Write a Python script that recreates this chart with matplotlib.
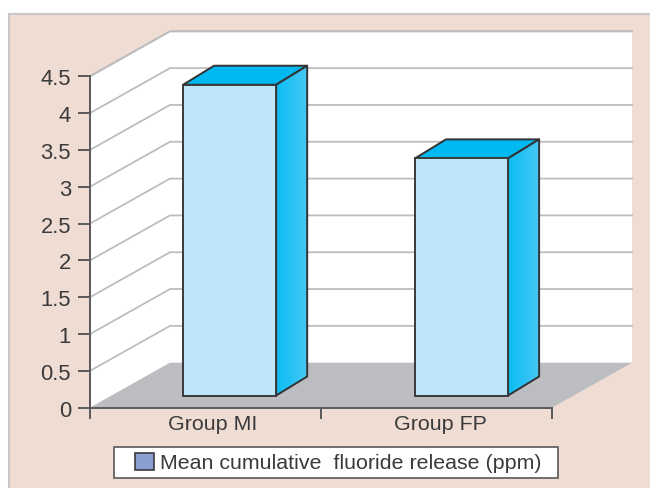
import matplotlib
matplotlib.use('Agg')
import matplotlib.pyplot as plt
import numpy as np
from matplotlib.patches import Polygon, Rectangle

plt.rcParams['font.family'] = ['Liberation Sans', 'DejaVu Sans']

groups = ['Group MI', 'Group FP']
values = [4.22, 3.22]
y_ticks = [0, 0.5, 1, 1.5, 2, 2.5, 3, 3.5, 4, 4.5]
y_labels = ['0', '0.5', '1', '1.5', '2', '2.5', '3', '3.5', '4', '4.5']
series_name = 'Mean cumulative  fluoride release (ppm)'

W, H = 650, 489
text_col = '#3a3a3c'
axis_col = '#58585a'
grid_col = '#bdbdbf'

fig = plt.figure(figsize=(W / 100, H / 100), dpi=100, facecolor='white')

# pink panel behind everything
fig.patches.append(Rectangle((9 / W, -0.05), 1, 1.05 - 14.5 / H, transform=fig.transFigure,
                             fc='#efdcd3', ec='#c8c8ca', lw=1.5, zorder=-2))

# axes box = front edge of the fake 3d chart
ax = fig.add_axes([90 / W, 1 - 408.7 / H, (552 - 90) / W, (408.7 - 77.3) / H])
ax.set_xlim(0, 2)
ax.set_ylim(0, 4.5)
ax.patch.set_alpha(0)

# depth of the walls and of the bars, in data units
px_x = 2 / (552 - 90)
px_y = 4.5 / (408.7 - 77.3)
wall_dx, wall_dy = 80 * px_x, 45 * px_y
bar_dx, bar_dy = 31 * px_x, 19 * px_y
bar_left = [0.403, 1.407]
bar_w = 0.403
bar_lift = 12.2 * px_y


def poly(pts, **kw):
    p = Polygon(pts, closed=True, clip_on=False, **kw)
    ax.add_patch(p)
    return p


# back wall, side wall, floor
poly([(wall_dx, wall_dy), (2 + wall_dx, wall_dy), (2 + wall_dx, 4.5 + wall_dy), (wall_dx, 4.5 + wall_dy)],
     fc='white', ec='none', zorder=1)
poly([(0, 0), (wall_dx, wall_dy), (wall_dx, 4.5 + wall_dy), (0, 4.5)], fc='white', ec='none', zorder=1)
poly([(0, 0), (2, 0), (2 + wall_dx, wall_dy), (wall_dx, wall_dy)], fc='#bcbdc0', ec='none', zorder=2)

for t in y_ticks[1:]:
    ax.plot([0, wall_dx, 2 + wall_dx], [t, t + wall_dy, t + wall_dy], color=grid_col, lw=1.3,
            clip_on=False, zorder=2, solid_joinstyle='miter')
# top edge of the walls
ax.plot([0, wall_dx, 2 + wall_dx], [4.5, 4.5 + wall_dy, 4.5 + wall_dy], color=grid_col, lw=1.3,
        clip_on=False, zorder=3, solid_joinstyle='miter')

# bars
cmap = matplotlib.colors.LinearSegmentedColormap.from_list('side', ['#0abdf3', '#45c7f4'])
for left, v in zip(bar_left, values):
    right = left + bar_w
    y0 = bar_lift
    y1 = bar_lift + v
    poly([(left, y1), (right, y1), (right + bar_dx, y1 + bar_dy), (left + bar_dx, y1 + bar_dy)],
         fc='#00b9f1', ec='#333335', lw=1.4, zorder=4, joinstyle='round')
    side = poly([(right, y0), (right + bar_dx, y0 + bar_dy), (right + bar_dx, y1 + bar_dy), (right, y1)],
                fc='none', ec='#333335', lw=1.4, zorder=6, joinstyle='round')
    grad = np.array([np.linspace(0, 1, 32)])
    im = ax.imshow(grad, extent=(right, right + bar_dx, y0, y1 + bar_dy), aspect='auto',
                   cmap=cmap, zorder=5, origin='lower')
    im.set_clip_box(fig.bbox)
    im.set_clip_path(Polygon(side.get_xy(), closed=True, transform=ax.transData))
    poly([(left, y0), (right, y0), (right, y1), (left, y1)], fc='#bde6f9', ec='#3a3a3c', lw=1.4, zorder=7)

ax.set_xlim(0, 2)
ax.set_ylim(0, 4.5)

for s in ['top', 'right']:
    ax.spines[s].set_visible(False)
for s in ['left', 'bottom']:
    ax.spines[s].set_color(axis_col)
    ax.spines[s].set_linewidth(1.4)
    ax.spines[s].set_zorder(8)

ax.set_yticks(y_ticks)
ax.set_yticklabels(y_labels, fontsize=15.8, color=text_col)
ax.tick_params(axis='y', length=8.6, width=1.4, color=axis_col, pad=5)
ax.set_xticks([0, 1, 2])
ax.set_xticklabels([])
ax.tick_params(axis='x', which='major', length=8, width=1.4, color=axis_col)
ax.set_xticks([0.532, 1.515], minor=True)
ax.set_xticklabels(groups, minor=True, fontsize=15.4, color=text_col)
ax.tick_params(axis='x', which='minor', length=0, pad=4.5)

# legend box drawn apart so the swatch can sit with its own inset
fig.patches.append(Rectangle((114 / W, 1 - 479 / H), (558 - 114) / W, 31 / H, transform=fig.transFigure,
                             fc='white', ec='#58585a', lw=1.2, zorder=2))
handle = Rectangle((0, 0), 1, 1, fc='#8a9fd0', ec='#3a3a3c', lw=1.2)
leg = fig.legend([handle], [series_name], loc='center',
                 bbox_to_anchor=(338.5 / W, 1 - 463.5 / H),
                 fontsize=15.4, frameon=False, borderaxespad=0, borderpad=0,
                 handlelength=0.85, handleheight=0.85, handletextpad=0.3)
leg.set_zorder(3)
leg.get_texts()[0].set_color(text_col)

fig.savefig('out.png', dpi=100)
